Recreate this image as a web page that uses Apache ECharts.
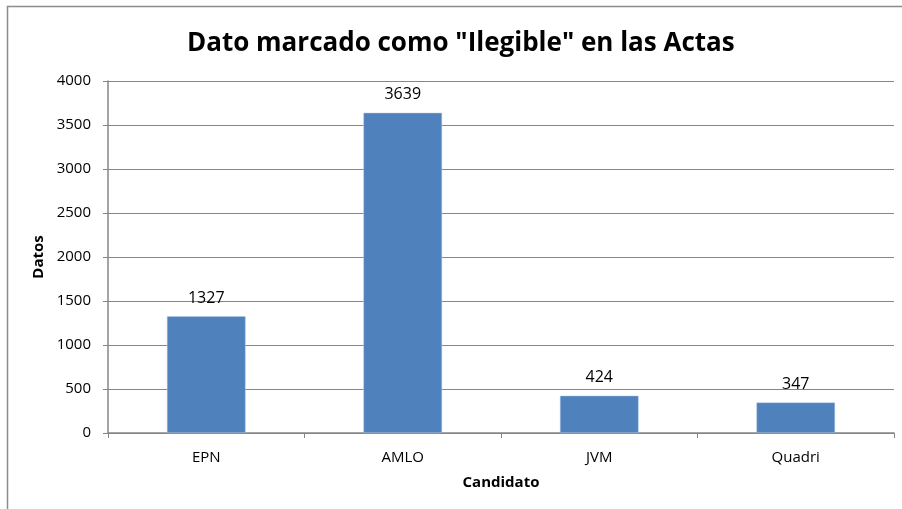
<!DOCTYPE html>
<html>
<head>
<meta charset="utf-8">
<script src="https://cdn.jsdelivr.net/npm/echarts@6/dist/echarts.min.js"></script>
<style>
  html, body { margin: 0; padding: 0; background: #ffffff; }
  #chart { width: 902px; height: 509px; }
</style>
</head>
<body>
<div id="chart"></div>
<script>
// datos
const candidatos = ['EPN', 'AMLO', 'JVM', 'Quadri']
const ilegibles = [1327, 3639, 424, 347]
const yTicks = [0, 500, 1000, 1500, 2000, 2500, 3000, 3500, 4000]

const chart = echarts.init(document.getElementById('chart'))
const font = '"Open Sans", sans-serif'

chart.setOption({
  animation: false,
  textStyle: { fontFamily: font },
  title: {
    text: 'Dato marcado como "Ilegible" en las Actas',
    left: 182,
    top: 26,
    textStyle: { fontSize: 26, fontWeight: 'bold', color: '#000', fontFamily: font },
  },
  graphic: [
    {
      type: 'rect',
      shape: { x: 7.5, y: 6.5, width: 1000, height: 1000 },
      style: { fill: 'none', stroke: '#8c8c8c', lineWidth: 1.5 },
      silent: true,
    },
  ],
  grid: { left: 108, top: 81, width: 786, height: 352 },
  xAxis: {
    type: 'category',
    data: candidatos,
    name: 'Candidato',
    nameLocation: 'middle',
    nameGap: 42,
    nameTextStyle: { fontSize: 15, fontWeight: 'bold', color: '#000' },
    axisLine: { lineStyle: { color: '#868686', width: 1.5 } },
    axisTick: { show: true, length: 5, lineStyle: { color: '#868686' } },
    axisLabel: { fontSize: 15, color: '#000', margin: 17 },
  },
  yAxis: {
    type: 'value',
    min: 0,
    max: 4000,
    interval: 500,
    name: 'Datos',
    nameLocation: 'middle',
    nameGap: 60,
    nameTextStyle: { fontSize: 15, fontWeight: 'bold', color: '#000' },
    axisLine: { show: true, lineStyle: { color: '#868686', width: 1.5 } },
    axisTick: { show: true, length: 5, lineStyle: { color: '#868686' } },
    axisLabel: {
      fontSize: 15,
      color: '#000',
      margin: 17,
      formatter: (v) => (yTicks.includes(v) ? String(v) : ''),
    },
    splitLine: { lineStyle: { color: '#868686', width: 1 } },
  },
  series: [
    {
      type: 'bar',
      data: ilegibles,
      barWidth: '40%',
      itemStyle: { color: '#4f81bd', borderColor: '#b9cde5', borderWidth: 0.5 },
      label: {
        show: true,
        position: 'top',
        distance: 10,
        fontSize: 16,
        color: '#000',
        fontFamily: font,
      },
    },
  ],
})
</script>
</body>
</html>
